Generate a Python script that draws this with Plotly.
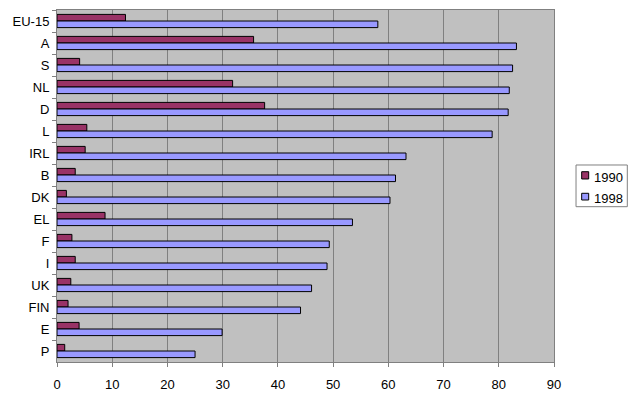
import plotly.graph_objects as go

countries = ["EU-15", "A", "S", "NL", "D", "L", "IRL", "B", "DK", "EL", "F", "I", "UK", "FIN", "E", "P"]
v1990 = [12.4, 35.6, 4.1, 31.8, 37.6, 5.4, 5.1, 3.3, 1.7, 8.7, 2.7, 3.3, 2.5, 2.0, 4.0, 1.4]
v1998 = [58.1, 83.2, 82.5, 81.9, 81.7, 78.8, 63.2, 61.3, 60.3, 53.5, 49.3, 48.9, 46.1, 44.1, 29.9, 25.0]
x_ticks = [0, 10, 20, 30, 40, 50, 60, 70, 80, 90]
series_names = ["1990", "1998"]
series_colors = ["#993366", "#9999FF"]

font = "Liberation Sans, Arial, sans-serif"

fig = go.Figure()
for name, vals, col in zip(series_names, [v1990, v1998], series_colors):
    fig.add_trace(go.Bar(y=countries, x=vals, name=name, orientation="h", showlegend=False,
                         hoverinfo="skip",
                         marker=dict(color=col, line=dict(color="black", width=1))))

# legend drawn as box + swatches + labels (paper coordinates)
shapes = [dict(type="rect", xref="paper", yref="paper", x0=1.0443, x1=1.1475, y0=0.4412, y1=0.5597,
               fillcolor="white", line=dict(color="#808080", width=1))]
annotations = []
sw_y = [(0.5199, 0.5406), (0.4602, 0.4793)]
txt_y = [0.5250, 0.4650]
for (y0, y1), ty, name, col in zip(sw_y, txt_y, series_names, series_colors):
    shapes.append(dict(type="rect", xref="paper", yref="paper", x0=1.0557, x1=1.0698, y0=y0, y1=y1,
                       fillcolor=col, line=dict(color="black", width=1)))
    annotations.append(dict(xref="paper", yref="paper", x=1.0760, y=ty, xanchor="left", yanchor="middle",
                            text=name, showarrow=False, font=dict(family=font, size=13, color="black")))

fig.update_layout(
    width=638, height=398,
    margin=dict(l=57, r=84, t=10, b=36, autoexpand=False),
    paper_bgcolor="white", plot_bgcolor="#C0C0C0",
    barmode="group", bargap=0.4, bargroupgap=0,
    font=dict(family=font, size=13, color="black"),
    shapes=shapes, annotations=annotations,
    xaxis=dict(range=[0, 90], tickvals=x_ticks, showgrid=True, gridcolor="#808080", gridwidth=1,
               showline=True, linecolor="#808080", linewidth=1, mirror=True,
               ticks="outside", ticklen=4, tickcolor="#808080", zeroline=False,
               ticklabelstandoff=6, fixedrange=True,
               automargin=False, tickfont=dict(family=font, size=13)),
    yaxis=dict(type="category", categoryorder="array", categoryarray=countries,
               autorange="reversed", showgrid=False,
               showline=True, linecolor="#808080", linewidth=1, mirror=True,
               ticks="outside", ticklen=4, tickcolor="#808080", tickson="boundaries",
               ticklabelstandoff=4, fixedrange=True,
               automargin=False, tickfont=dict(family=font, size=13)),
)

fig.write_html("out.html", config={"displayModeBar": False},
               post_script="document.body.style.margin='0';document.body.style.padding='0';")
